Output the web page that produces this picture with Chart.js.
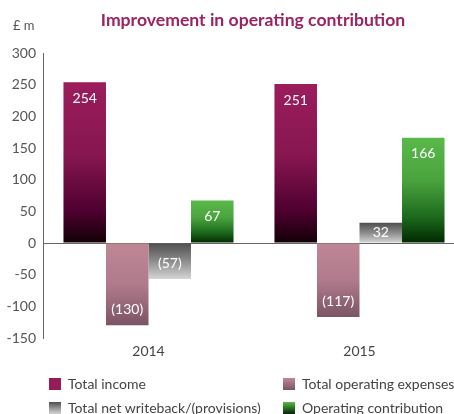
<!DOCTYPE html>
<html>
<head>
<meta charset="utf-8">
<script src="https://cdn.jsdelivr.net/npm/chart.js@4"></script>
<style>
  body { margin: 0; background: #fff; }
  #wrap { position: relative; width: 454px; height: 414px; overflow: hidden; font-family: Lato, sans-serif; }
  #cv { position: absolute; left: 0; top: 0; }
  #title { position: absolute; left: 0; width: 506px; top: 9px; text-align: center; font-weight: bold; font-size: 17.6px; color: #9b2362; }
  #unit { position: absolute; left: 13px; top: 17px; font-size: 13px; color: #555; }
  .lg { position: absolute; font-size: 14px; color: #444; white-space: nowrap; }
  .lg span { position: absolute; left: 0; top: 3px; width: 12px; height: 12px; }
  .lg b { font-weight: normal; position: absolute; left: 19px; top: 0; }
</style>
</head>
<body>
<div id="wrap">
  <canvas id="cv" width="470" height="414"></canvas>
  <div id="title">Improvement in operating contribution</div>
  <div id="unit">£ m</div>
  <div id="legend"></div>
</div>
<script>
"use strict";

const years = ['2014', '2015'];
const seriesNames = ['Total income', 'Total operating expenses', 'Total net writeback/(provisions)', 'Operating contribution'];
const totalIncome = [254, 251];
const totalOpex = [-130, -117];
const netWriteback = [-57, 32];
const opContribution = [67, 166];
const yMin = -150;
const yMax = 300;
const yStep = 50;

// gradient stops, from the visual top of a bar to its bottom
const stops = [
    [[0, '#9b1d5c'], [0.45, '#87164f'], [0.8, '#4e0030'], [1, '#130006']],
    [[0, '#c08696'], [0.5, '#b07b8c'], [1, '#7c5465']],
    [[0, '#4e4e4e'], [0.5, '#8c8c8c'], [1, '#d6d6d6']],
    [[0, '#5ab94a'], [0.4, '#4aa43e'], [0.75, '#1d6a1d'], [1, '#002800']]
];

function barGradient(idx) {
    return function (c) {
        const chart = c.chart;
        if (!chart.chartArea) return stops[idx][0][1];
        const y = chart.scales.y;
        const v = c.raw;
        const top = y.getPixelForValue(Math.max(v, 0));
        const bottom = y.getPixelForValue(Math.min(v, 0));
        const g = chart.ctx.createLinearGradient(0, top, 0, bottom);
        stops[idx].forEach(s => g.addColorStop(s[0], s[1]));
        return g;
    };
}

// white labels inside the bars
const barLabels = {
    id: 'barLabels',
    afterDatasetsDraw(chart) {
        const ctx = chart.ctx;
        ctx.save();
        ctx.fillStyle = '#fff';
        ctx.font = '14px Lato, sans-serif';
        ctx.textAlign = 'center';
        ctx.textBaseline = 'middle';
        chart.data.datasets.forEach((ds, i) => {
            chart.getDatasetMeta(i).data.forEach((bar, j) => {
                const v = ds.data[j];
                const h = Math.abs(bar.base - bar.y);
                const off = Math.min(16, h / 2);
                const ty = v >= 0 ? bar.y + off : bar.y - off;
                const txt = v < 0 ? '(' + Math.abs(v) + ')' : String(v);
                ctx.fillText(txt, bar.x, ty);
            });
        });
        ctx.restore();
    }
};

const allSeries = [totalIncome, totalOpex, netWriteback, opContribution];

new Chart(document.getElementById('cv'), {
    type: 'bar',
    data: {
        labels: years,
        datasets: allSeries.map((d, i) => ({
            label: seriesNames[i],
            data: d,
            backgroundColor: barGradient(i),
            borderWidth: 0,
            barPercentage: 1,
            categoryPercentage: 0.806
        }))
    },
    options: {
        responsive: false,
        animation: false,
        layout: { padding: { top: 53, right: 5, bottom: 52, left: 0 } },
        plugins: { legend: { display: false }, title: { display: false }, tooltip: { enabled: false } },
        scales: {
            x: {
                afterFit(s) { s.height = 24; },
                grid: { display: false },
                border: { display: false },
                ticks: { color: '#444', font: { family: 'Lato', size: 14 }, padding: -3 }
            },
            y: {
                min: yMin,
                max: yMax,
                afterFit(s) { s.width = 43; },
                ticks: { stepSize: yStep, color: '#555', font: { family: 'Lato', size: 14 }, padding: 7 },
                grid: {
                    drawTicks: false,
                    color: c => c.tick && c.tick.value === 0 ? '#666' : 'rgba(0,0,0,0)',
                    lineWidth: 1
                },
                border: { color: '#666', width: 1 }
            }
        }
    },
    plugins: [barLabels]
});

// legend in two columns
const boxCss = [
    '#961c59',
    'linear-gradient(#c08696, #7c5465)',
    'linear-gradient(#4e4e4e, #d6d6d6)',
    'linear-gradient(#5ab94a, #002800)'
];
const lgPos = [[49, 375], [283, 375], [49, 399], [283, 399]];
const legend = document.getElementById('legend');
seriesNames.forEach((n, i) => {
    const d = document.createElement('div');
    d.className = 'lg';
    d.style.left = lgPos[i][0] + 'px';
    d.style.top = lgPos[i][1] + 'px';
    d.innerHTML = '<span style="background:' + boxCss[i] + '"></span><b>' + n + '</b>';
    legend.appendChild(d);
});
</script>
</body>
</html>
